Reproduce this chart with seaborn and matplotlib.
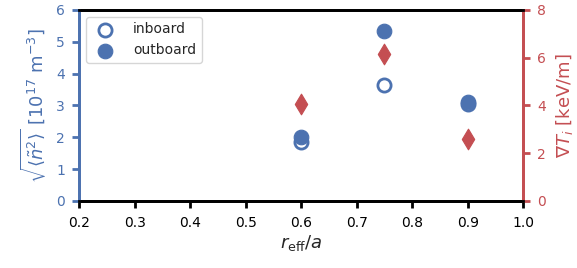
import matplotlib
matplotlib.use("Agg")
import matplotlib.pyplot as plt
import seaborn as sns

sns.set_style("white")
plt.rcParams['font.family'] = ['DejaVu Sans']

blue = "#4C72B0"
red = "#C44E52"

r_in = [0.6, 0.75, 0.9]
n_in = [1.85, 3.65, 3.05]
r_out = [0.6, 0.75, 0.9]
n_out = [2.0, 5.35, 3.1]
r_grad = [0.6, 0.75, 0.9]
grad_ti = [4.05, 6.15, 2.6]

fig, ax = plt.subplots(figsize=(5.77, 2.68), dpi=100)
ax2 = ax.twinx()

sns.scatterplot(x=r_in, y=n_in, ax=ax, s=90, marker="o", facecolor="white",
                edgecolor=blue, linewidth=2, label="inboard", zorder=3)
sns.scatterplot(x=r_out, y=n_out, ax=ax, s=110, marker="o", color=blue,
                edgecolor=blue, label="outboard", zorder=3)
sns.scatterplot(x=r_grad, y=grad_ti, ax=ax2, s=110, marker="d", color=red,
                edgecolor=red, legend=False, zorder=3)

ax.set_xlim(0.2, 1.0)
ax.set_ylim(0, 6)
ax2.set_ylim(0, 8)
ax.set_xticks([0.2, 0.3, 0.4, 0.5, 0.6, 0.7, 0.8, 0.9, 1.0])
ax.set_yticks(range(0, 7))
ax2.set_yticks([0, 2, 4, 6, 8])

for a in (ax, ax2):
    for s in a.spines.values():
        s.set_linewidth(2)
        s.set_color("black")
ax.spines["left"].set_color(blue)
ax2.spines["left"].set_color(blue)
ax.spines["right"].set_color(red)
ax2.spines["right"].set_color(red)

ax.tick_params(axis="x", direction="out", length=5, width=2, colors="black",
               labelsize=10, pad=6, bottom=True)
ax.tick_params(axis="y", direction="out", length=5, width=2, colors=blue,
               labelsize=10, pad=5, left=True)
ax2.tick_params(axis="y", direction="out", length=5, width=2, colors=red,
                labelsize=10, pad=5, right=True)

ax.set_xlabel(r"$r_\mathrm{eff}/a$", fontsize=13, labelpad=2)
ax.set_ylabel(r"$\sqrt{\langle\tilde{n}^2\rangle}$ [$10^{17}$ m$^{-3}$]",
              color=blue, fontsize=13, labelpad=6)
ax2.set_ylabel(r"$\nabla T_i$ [keV/m]", color=red, fontsize=13, labelpad=6)

ax.legend(loc="upper left", fontsize=10, handletextpad=1.0, borderaxespad=0.5)

fig.subplots_adjust(left=0.137, right=0.907, top=0.963, bottom=0.25)
fig.savefig("out.png", dpi=100)
